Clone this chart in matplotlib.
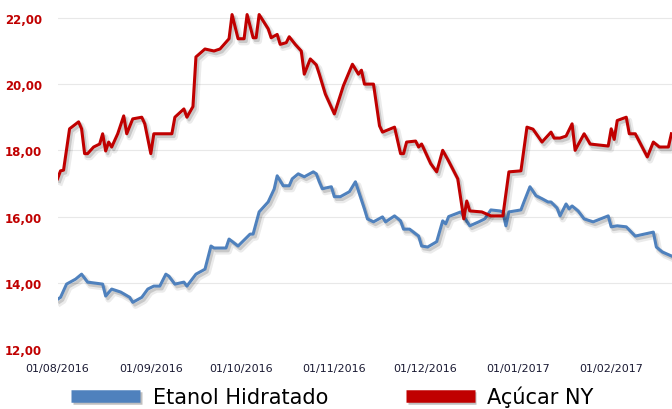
#!/usr/bin/env python3
import datetime as dt
import matplotlib
matplotlib.use("Agg")
import matplotlib.pyplot as plt
import matplotlib.dates as mdates
import matplotlib.patheffects as pe
from matplotlib.lines import Line2D
from matplotlib.ticker import FuncFormatter

inicio = dt.date(2016, 8, 1)

# dias corridos desde 01/08/2016 e preços
dias_acucar = [0, 1, 2, 4, 7, 8, 9, 10, 12, 14, 15, 16, 17, 18, 20, 22, 23, 25,
               28, 29, 31, 32, 38, 39, 42, 43, 45, 46, 49, 52, 54, 57, 58, 60,
               62, 63, 65, 66, 67, 70, 71, 73, 74, 76, 77, 79, 81, 82, 84, 86,
               87, 89, 92, 95, 98, 100, 101, 102, 105, 107, 108, 112, 114, 115,
               116, 119, 120, 121, 124, 126, 128, 130, 133, 135, 136, 137, 141,
               144, 148, 150, 154, 156, 158, 161, 164, 165, 167, 169, 171, 172,
               175, 177, 183, 184, 185, 186, 189, 190, 192, 196, 198, 200, 203,
               204]
acucar = [17.14, 17.38, 17.40, 18.65, 18.86, 18.65, 17.90, 17.90, 18.10, 18.19,
          18.50, 17.98, 18.25, 18.10, 18.50, 19.04, 18.50, 18.95, 19.00, 18.80,
          17.90, 18.50, 18.50, 19.00, 19.25, 19.00, 19.32, 20.82, 21.06, 21.00,
          21.06, 21.37, 22.10, 21.37, 21.37, 22.10, 21.40, 21.40, 22.10, 21.67,
          21.40, 21.50, 21.20, 21.25, 21.43, 21.20, 21.00, 20.30, 20.76, 20.58,
          20.30, 19.70, 19.10, 19.95, 20.60, 20.30, 20.42, 20.00, 20.00, 18.74,
          18.55, 18.70, 17.90, 17.90, 18.25, 18.28, 18.10, 18.19, 17.60, 17.35,
          18.00, 17.67, 17.14, 15.93, 16.47, 16.17, 16.14, 16.02, 16.02, 17.35,
          17.38, 18.70, 18.64, 18.25, 18.55, 18.37, 18.37, 18.43, 18.80, 18.00,
          18.50, 18.19, 18.13, 18.65, 18.33, 18.90, 19.00, 18.50, 18.50, 17.80,
          18.25, 18.10, 18.10, 18.50]

dias_etanol = [0, 1, 3, 6, 8, 10, 15, 16, 18, 21, 24, 25, 28, 30, 32, 34, 36,
               37, 39, 42, 43, 46, 49, 51, 52, 56, 57, 60, 64, 65, 67, 70, 72,
               73, 75, 77, 78, 80, 82, 85, 86, 87, 88, 91, 92, 94, 97, 99, 102,
               103, 105, 108, 109, 112, 114, 115, 117, 120, 121, 123, 126, 128,
               129, 130, 134, 137, 140, 142, 144, 147, 148, 149, 150, 154, 155,
               157, 159, 161, 163, 164, 166, 167, 169, 170, 171, 173, 175, 178,
               183, 184, 186, 189, 192, 198, 199, 201, 204]
etanol = [13.50, 13.56, 13.96, 14.11, 14.26, 14.02, 13.96, 13.60, 13.81, 13.72,
          13.56, 13.41, 13.56, 13.81, 13.90, 13.90, 14.26, 14.20, 13.96, 14.02,
          13.90, 14.26, 14.41, 15.11, 15.05, 15.05, 15.32, 15.11, 15.47, 15.47,
          16.14, 16.44, 16.83, 17.23, 16.93, 16.93, 17.14, 17.29, 17.20, 17.35,
          17.29, 17.05, 16.84, 16.90, 16.60, 16.60, 16.75, 17.05, 16.23, 15.93,
          15.84, 15.99, 15.84, 16.02, 15.87, 15.62, 15.62, 15.41, 15.11, 15.08,
          15.24, 15.87, 15.78, 16.00, 16.14, 15.72, 15.84, 15.93, 16.20, 16.17,
          16.14, 15.72, 16.14, 16.20, 16.44, 16.90, 16.63, 16.54, 16.44, 16.44,
          16.26, 16.02, 16.38, 16.23, 16.32, 16.17, 15.93, 15.84, 16.02, 15.69,
          15.72, 15.69, 15.41, 15.53, 15.08, 14.93, 14.81]

nomes = ["Etanol Hidratado", "Açúcar NY"]
cores = ["#4F81BD", "#C00000"]

datas_acucar = [inicio + dt.timedelta(days=d) for d in dias_acucar]
datas_etanol = [inicio + dt.timedelta(days=d) for d in dias_etanol]

fig = plt.figure(figsize=(6.72, 4.10), dpi=100)
ax = fig.add_axes([0.0856, 0.1463, 0.9144, 0.8537])

# sombra suave tipo Excel: duas camadas leves
sombra = [pe.SimpleLineShadow(offset=(2, -2.5), shadow_color="black", alpha=0.08,
                              linewidth=4.5),
          pe.SimpleLineShadow(offset=(1.5, -2), shadow_color="black", alpha=0.15),
          pe.Normal()]
ax.plot(datas_etanol, etanol, color=cores[0], lw=2.2, path_effects=sombra,
        solid_joinstyle="round", zorder=3)
ax.plot(datas_acucar, acucar, color=cores[1], lw=2.2, path_effects=sombra,
        solid_joinstyle="round", zorder=4)

ax.set_ylim(12, 22.57)
ax.set_yticks([12, 14, 16, 18, 20, 22])
ax.yaxis.set_major_formatter(FuncFormatter(lambda v, p: f"{v:.2f}".replace(".", ",")))
for y in [14, 16, 18, 20, 22]:
    ax.axhline(y, color="#e8e8e8", lw=0.8, zorder=0)

ax.set_xlim(mdates.date2num(inicio), mdates.date2num(inicio) + 204.2)
ax.set_xticks([dt.date(2016, m, 1) for m in range(8, 13)] +
              [dt.date(2017, 1, 1), dt.date(2017, 2, 1)])
ax.xaxis.set_major_formatter(mdates.DateFormatter("%d/%m/%Y"))

ax.tick_params(axis="y", length=0, pad=11, labelsize=8.5, labelcolor="#C00000")
ax.tick_params(axis="x", length=0, pad=10, labelsize=8, labelcolor="#1a1a33")
for t in ax.get_yticklabels():
    t.set_fontweight("bold")
for s in ax.spines.values():
    s.set_visible(False)

alcas = [Line2D([], [], color=c, lw=9, solid_capstyle="butt",
                path_effects=[pe.SimpleLineShadow(offset=(1, -1.5), alpha=0.25),
                              pe.Normal()]) for c in cores]
fig.legend(alcas, nomes, loc="center", bbox_to_anchor=(0.495, 0.03), ncol=2,
           frameon=False, fontsize=15, handlelength=3.3, handletextpad=0.6,
           columnspacing=3.75, borderpad=0)

fig.savefig("out.png", dpi=100)
